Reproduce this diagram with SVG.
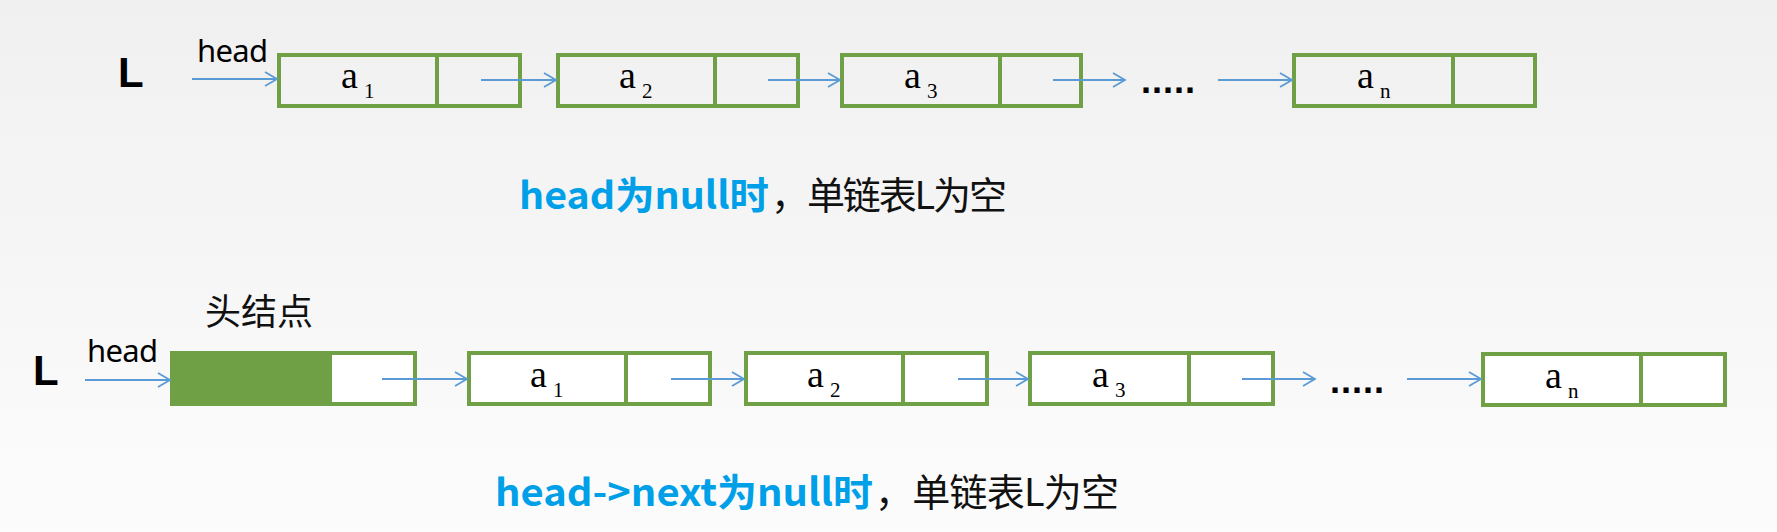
<svg xmlns="http://www.w3.org/2000/svg" width="1777" height="532" viewBox="0 0 1777 532">
<defs>
<linearGradient id="bg" x1="0" y1="0" x2="0" y2="1">
<stop offset="0" stop-color="#f0f0f0"/>
<stop offset="1" stop-color="#fcfcfc"/>
</linearGradient>
<marker id="ah" markerUnits="userSpaceOnUse" markerWidth="16" markerHeight="18" refX="13" refY="8" orient="auto" viewBox="0 0 16 18">
<path d="M1,1 L13,8 L1,15" fill="none" stroke="#5b9bd5" stroke-width="1.8"/>
</marker>
<style>
.box{fill:none;stroke:#70a045;stroke-width:4}
.div{stroke:#70a045;stroke-width:4}
.conn line{stroke:#5b9bd5;stroke-width:1.8;marker-end:url(#ah)}
.L{font-family:"Liberation Sans",Arial,sans-serif;font-weight:bold;font-size:42px;fill:#000}
.hd{font-family:"Noto Sans","Liberation Sans",sans-serif;font-size:31px;fill:#000}
.a{font-family:"Liberation Serif","Times New Roman",serif;font-size:38px;fill:#000}
.s{font-family:"Liberation Serif","Times New Roman",serif;font-size:21px;fill:#000}
.dots{font-family:"Liberation Sans",Arial,sans-serif;font-weight:bold;font-size:36px;fill:#000;letter-spacing:1px}
.cap{font-family:"Noto Sans CJK SC","Noto Sans",sans-serif;font-size:38px}
.blue{fill:#00a0e9;font-weight:bold}
.blk{fill:#111}
.zh{font-family:"Noto Sans CJK SC",sans-serif;font-size:36px;fill:#111}
</style>
</defs>
<rect width="1777" height="532" fill="url(#bg)"/>

<!-- Top row -->
<text class="L" x="118" y="87">L</text>
<text class="hd" x="197" y="62" textLength="71">head</text>

<g id="t1">
<rect class="box" x="279" y="55" width="241" height="51"/>
<line class="div" x1="437" y1="55" x2="437" y2="106"/>
<text class="a" x="341" y="88">a</text><text class="s" x="364" y="98">1</text>
</g>
<g id="t2">
<rect class="box" x="558" y="55" width="240" height="51"/>
<line class="div" x1="715" y1="55" x2="715" y2="106"/>
<text class="a" x="619" y="88">a</text><text class="s" x="642" y="98">2</text>
</g>
<g id="t3">
<rect class="box" x="842" y="55" width="239" height="51"/>
<line class="div" x1="1000" y1="55" x2="1000" y2="106"/>
<text class="a" x="904" y="88">a</text><text class="s" x="927" y="98">3</text>
</g>
<text class="dots" x="1141" y="93">.....</text>
<g id="tn">
<rect class="box" x="1294" y="55" width="241" height="51"/>
<line class="div" x1="1453" y1="55" x2="1453" y2="106"/>
<text class="a" x="1357" y="88">a</text><text class="s" x="1380" y="98">n</text>
</g>

<text class="cap blue" x="519" y="209" textLength="250" lengthAdjust="spacingAndGlyphs">head为null时</text>
<text class="cap blk" x="771" y="209" textLength="236">，单链表L为空</text>

<!-- Bottom row -->
<text class="L" x="33" y="385">L</text>
<text class="hd" x="87" y="362" textLength="71">head</text>
<text class="zh" x="205" y="325">头结点</text>

<g id="hnode">
<rect x="172" y="353" width="243" height="51" fill="#ffffff"/>
<rect x="172" y="353" width="160" height="51" fill="#70a045"/>
<rect class="box" x="172" y="353" width="243" height="51"/>
</g>
<g id="b1">
<rect x="469" y="353" width="241" height="51" fill="#ffffff"/>
<rect class="box" x="469" y="353" width="241" height="51"/>
<line class="div" x1="626" y1="353" x2="626" y2="404"/>
<text class="a" x="530" y="387">a</text><text class="s" x="553" y="397">1</text>
</g>
<g id="b2">
<rect x="746" y="353" width="241" height="51" fill="#ffffff"/>
<rect class="box" x="746" y="353" width="241" height="51"/>
<line class="div" x1="903" y1="353" x2="903" y2="404"/>
<text class="a" x="807" y="387">a</text><text class="s" x="830" y="397">2</text>
</g>
<g id="b3">
<rect x="1030" y="353" width="243" height="51" fill="#ffffff"/>
<rect class="box" x="1030" y="353" width="243" height="51"/>
<line class="div" x1="1189" y1="353" x2="1189" y2="404"/>
<text class="a" x="1092" y="387">a</text><text class="s" x="1115" y="397">3</text>
</g>
<text class="dots" x="1330" y="393">.....</text>
<g id="bn">
<rect x="1483" y="354" width="242" height="51" fill="#ffffff"/>
<rect class="box" x="1483" y="354" width="242" height="51"/>
<line class="div" x1="1641" y1="354" x2="1641" y2="405"/>
<text class="a" x="1545" y="388">a</text><text class="s" x="1568" y="398">n</text>
</g>

<text class="cap blue" x="495" y="506" textLength="378" lengthAdjust="spacingAndGlyphs">head-&gt;next为null时</text>
<text class="cap blk" x="875" y="506" textLength="244">，单链表L为空</text>

<g class="conn" id="connectors">
<line x1="192" y1="79" x2="277" y2="79"/>
<line x1="481" y1="80" x2="556" y2="80"/>
<line x1="768" y1="80" x2="840" y2="80"/>
<line x1="1053" y1="80" x2="1125" y2="80"/>
<line x1="1218" y1="80" x2="1292" y2="80"/>
<line x1="85" y1="380" x2="170" y2="380"/>
<line x1="382" y1="379" x2="467" y2="379"/>
<line x1="671" y1="379" x2="744" y2="379"/>
<line x1="958" y1="379" x2="1028" y2="379"/>
<line x1="1242" y1="379" x2="1315" y2="379"/>
<line x1="1407" y1="379" x2="1481" y2="379"/>
</g>
</svg>
